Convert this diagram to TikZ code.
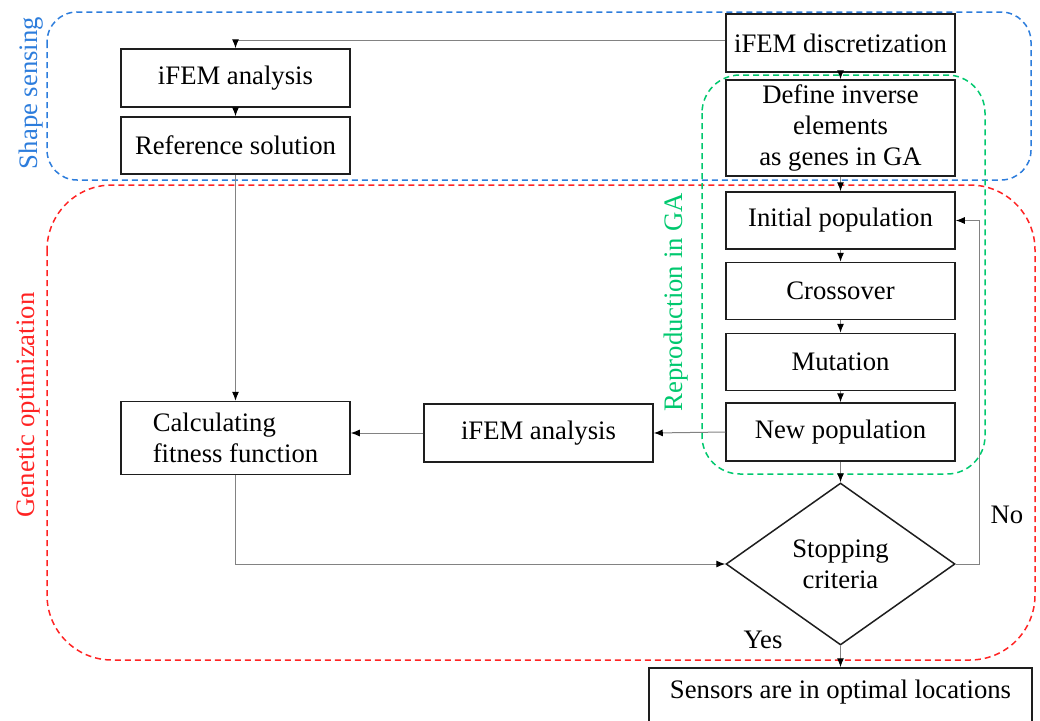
\documentclass[tikz,border=0pt]{standalone}
\usepackage{fontspec}
\setmainfont{Liberation Serif}
\newfontfamily\diagfont{Liberation Serif}
\usetikzlibrary{arrows.meta,shapes.geometric,calc}
\definecolor{blueS}{RGB}{45,125,220}
\definecolor{redG}{RGB}{255,35,35}
\definecolor{greenR}{RGB}{0,200,110}
\definecolor{lineG}{RGB}{130,130,130}
\definecolor{boxB}{RGB}{30,30,30}
\begin{document}
\begin{tikzpicture}[x=1pt,y=-1pt,
  every node/.style={font=\diagfont\fontsize{26.7}{31}\selectfont},
  box/.style={draw=boxB,line width=1.5pt,fill=white,rectangle,minimum width=229pt,minimum height=57pt,inner sep=0pt,align=center},
  conn/.style={draw=lineG,line width=1pt,-{Latex[length=9pt,width=7pt,color=black]}},
  grp/.style={line width=1.5pt,dash pattern=on 6pt off 4pt},
  lbl/.style={rotate=90,inner sep=0pt}]
\useasboundingbox (0,0) rectangle (1040,720);
\clip (0,0) rectangle (1040,720);
% group frames
\draw[grp,blueS,rounded corners=30pt] (47,12) rectangle (1031,180);
\draw[grp,redG,rounded corners=65pt] (47,185) rectangle (1035,660);
\draw[grp,greenR,rounded corners=38pt] (702,75) rectangle (985,474);
% group labels
\node[lbl,text=blueS] (lshape) at (31,93) {Shape sensing};
\node[lbl,text=redG] (lgen) at (29,405) {Genetic optimization};
\node[lbl,text=greenR] (lrep) at (676,302) {Reproduction in GA};
% boxes
\node[box,minimum height=58pt] (disc) at (840.5,43) {iFEM discretization};
\node[box,minimum height=96pt] (def) at (840.5,128) {Define inverse\\elements\\as genes in GA};
\node[box,minimum height=58pt] (ana1) at (235.5,78) {iFEM analysis};
\node[box] (ref) at (235.5,145.5) {Reference solution};
\node[box] (init) at (840.5,220.5) {Initial population};
\node[box] (cross) at (840.5,291) {Crossover};
\node[box] (mut) at (840.5,362) {Mutation};
\node[box,minimum height=58pt] (newp) at (840.5,432) {New population};
\node[box,minimum height=58pt] (ana2) at (538.5,433) {iFEM analysis};
\node[box,minimum height=73pt,align=left] (calc) at (235.5,438) {Calculating\\fitness function};
\node[draw=boxB,line width=1.5pt,fill=white,diamond,aspect=1.41,minimum width=229pt,minimum height=162pt,inner sep=0pt,align=center] (dia) at (840.5,564) {Stopping\\criteria};
\node[box,minimum width=383pt,minimum height=54pt] (sens) at (840.5,695) {};
\node[inner sep=0pt] (senst) at (840.5,692) {Sensors are in optimal locations};
% labels
\node[inner sep=0pt] (lno) at (1007,515) {No};
\node[inner sep=0pt] (lyes) at (763,640) {Yes};
% connectors
\coordinate (topl) at ($(disc.west)+(0,-3)$);
\draw[conn] (topl) -| (ana1.north);
\draw[conn] (ana1.south) -- (ref.north);
\draw[conn] (ref.south) -- (calc.north);
\draw[conn] (disc.south) -- (def.north);
\draw[conn] (def.south) -- (init.north);
\draw[conn] (init.south) -- (cross.north);
\draw[conn] (cross.south) -- (mut.north);
\draw[conn] (mut.south) -- (newp.north);
\draw[conn] (newp.west) -- (ana2.east);
\draw[conn] (ana2.west) -- (ana2.west -| calc.east);
\draw[conn] (calc.south) |- (dia.west);
\draw[conn] (newp.south) -- (dia.north);
\coordinate (loop) at (979,564);
\draw[conn] (dia.east) -- (loop) |- (init.east);
\draw[conn] (dia.south) -- (sens.north);
\end{tikzpicture}
\end{document}
